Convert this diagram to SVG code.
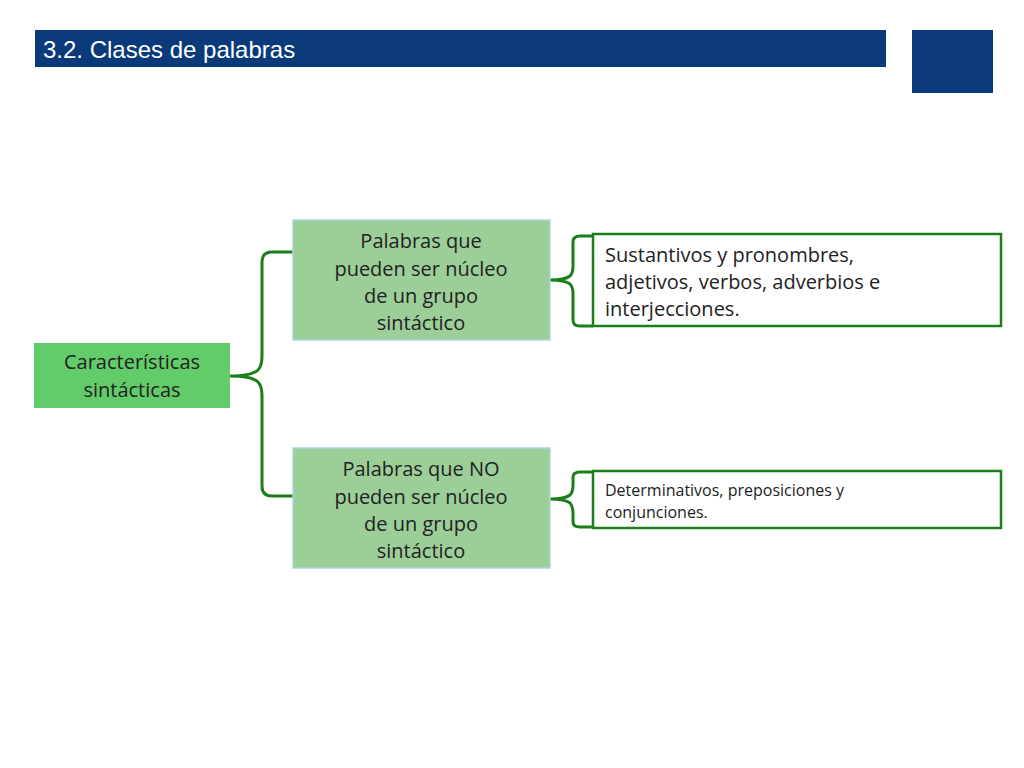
<svg xmlns="http://www.w3.org/2000/svg" width="1024" height="768" viewBox="0 0 1024 768">
<style>
.t{font-family:"Open Sans","Liberation Sans",sans-serif;fill:#222}
.c{text-anchor:middle;font-size:20px}
.br{fill:none;stroke:#1a7f1a;stroke-width:3}
.mid{fill:#9ccf98;stroke:#a9d6e5;stroke-width:1.5}
.leaf{fill:#fff;stroke:#1a7f1a;stroke-width:2.5}
</style>
<rect width="1024" height="768" fill="#fff"/>
<g id="title"><rect x="35" y="30" width="851" height="37" fill="#0b3a7a"/><text x="43" y="58" font-family="Liberation Sans,sans-serif" font-size="24" fill="#fff">3.2. Clases de palabras</text></g>
<rect x="912" y="30" width="81" height="63" fill="#0b3a7a"/>
<g id="connectors">
<path class="br" d="M230 376 Q252 376 258 370 Q262 366 262 356 L262 262 Q262 252 272 252 L293 252 M230 376 Q252 376 258 382 Q262 386 262 396 L262 486 Q262 496 272 496 L293 496"/>
<path class="br" d="M550 280 Q565 280 570 276 Q573 273 573 266 L573 242 Q573 236 580 236 L593 236 M550 280 Q565 280 570 284 Q573 287 573 294 L573 320 Q573 326 580 326 L593 326"/>
<path class="br" d="M550 499 Q565 499 570 495 Q573 492 573 485 L573 477 Q573 472 580 472 L593 472 M550 499 Q565 499 570 503 Q573 506 573 513 L573 522 Q573 527 580 527 L593 527"/>
</g>
<g id="root"><rect x="34" y="343" width="196" height="65" fill="#63cc6a"/><text class="t c" x="132" y="369">Características</text><text class="t c" x="132" y="397">sintácticas</text></g>
<g id="n1"><rect class="mid" x="293" y="220" width="257" height="120"/><text class="t c" x="421" y="248">Palabras que</text><text class="t c" x="421" y="276">pueden ser núcleo</text><text class="t c" x="421" y="303">de un grupo</text><text class="t c" x="421" y="330">sintáctico</text></g>
<g id="n2"><rect class="mid" x="293" y="448" width="257" height="120"/><text class="t c" x="421" y="476">Palabras que NO</text><text class="t c" x="421" y="504">pueden ser núcleo</text><text class="t c" x="421" y="531">de un grupo</text><text class="t c" x="421" y="558">sintáctico</text></g>
<g id="l1"><rect class="leaf" x="593" y="234" width="408" height="92"/><text class="t" x="605" y="262" font-size="20">Sustantivos y pronombres,</text><text class="t" x="605" y="289" font-size="20">adjetivos, verbos, adverbios e</text><text class="t" x="605" y="316" font-size="20">interjecciones.</text></g>
<g id="l2"><rect class="leaf" x="593" y="471" width="408" height="57"/><text class="t" x="605" y="496" font-size="16">Determinativos, preposiciones y</text><text class="t" x="605" y="518" font-size="16">conjunciones.</text></g>
</svg>
